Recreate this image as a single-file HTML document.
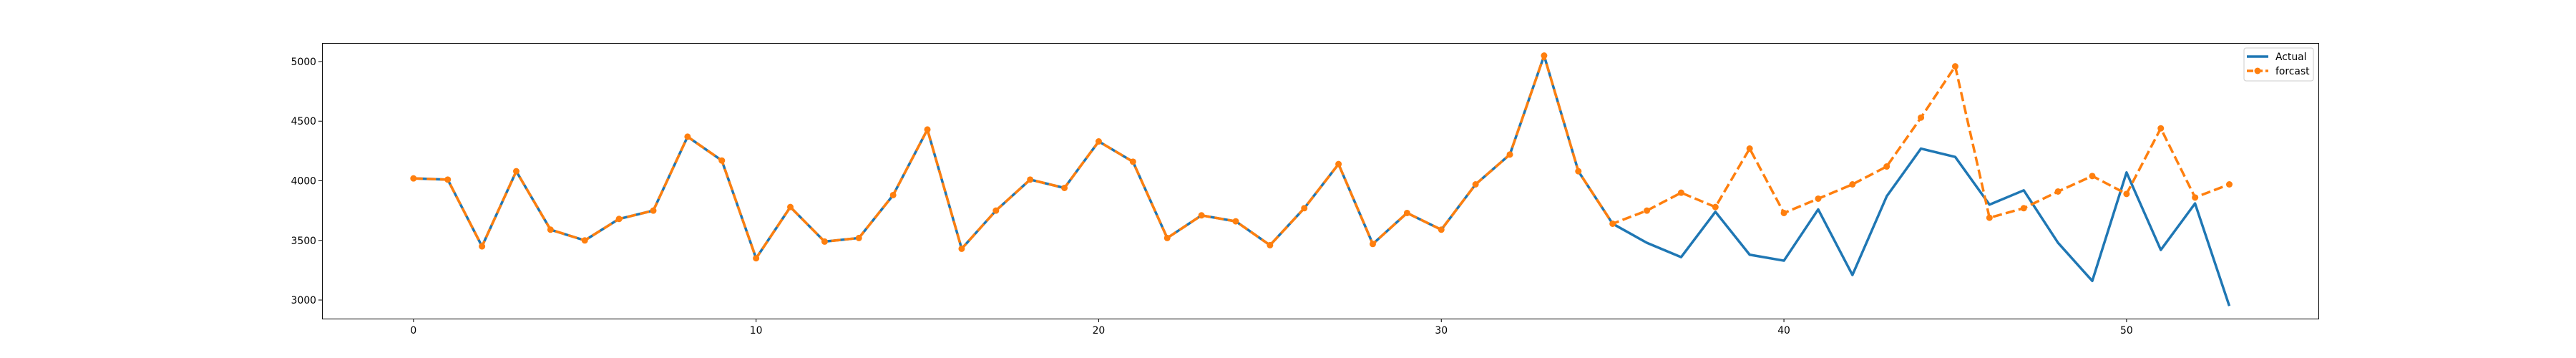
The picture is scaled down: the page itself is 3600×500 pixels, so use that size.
<!DOCTYPE html>
<html><head><meta charset="utf-8"><style>
html,body{margin:0;padding:0;background:#fff;}
svg{display:block;font-family:"DejaVu Sans","Liberation Sans",sans-serif;}
</style></head><body>
<svg id="chart" width="3600" height="500" xmlns="http://www.w3.org/2000/svg">
<rect width="3600" height="500" fill="#fff"/>
<g id="plot"></g>
<rect x="450.5" y="60.5" width="2790" height="385" fill="none" stroke="#000" stroke-width="1"/>
<g>
<rect x="3136" y="67" width="97" height="46" rx="3" fill="#fff" fill-opacity="0.8" stroke="#ccc"/>
<line x1="3140" y1="79" x2="3170" y2="79" stroke="#1f77b4" stroke-width="3.5"/>
<text x="3180" y="84" font-size="13.9">Actual</text>
<line x1="3140" y1="99" x2="3170" y2="99" stroke="#ff7f0e" stroke-width="3.5" stroke-dasharray="9,4"/>
<circle cx="3155" cy="99" r="4.5" fill="#ff7f0e"/>
<text x="3180" y="104" font-size="13.9">forcast</text>
</g>
</svg>
<script>
const xTicks=[0,10,20,30,40,50];
const yTicks=[3000,3500,4000,4500,5000];
const actual=[4020,4010,3450,4080,3590,3500,3680,3750,4370,4170,3350,3780,3490,3520,3880,4430,3430,3750,4010,3940,4330,4160,3520,3710,3660,3460,3770,4140,3470,3730,3590,3970,4220,5050,4080,3640,3480,3360,3740,3380,3330,3760,3210,3870,4270,4200,3800,3920,3480,3160,4070,3420,3810,2950];
const forcast=[4020,4010,3450,4080,3590,3500,3680,3750,4370,4170,3350,3780,3490,3520,3880,4430,3430,3750,4010,3940,4330,4160,3520,3710,3660,3460,3770,4140,3470,3730,3590,3970,4220,5050,4080,3640,3750,3900,3780,4270,3730,3850,3970,4120,4530,4960,3690,3770,3910,4040,3890,4440,3860,3970];
const NS="http://www.w3.org/2000/svg";
const L=450,R=3240,T=60,B=445;
const xmin=-2.67,xmax=55.6,ymin=2844,ymax=5156;
function sx(v){return L+(v-xmin)/(xmax-xmin)*(R-L);}
function sy(v){return B-(v-ymin)/(ymax-ymin)*(B-T);}
const g=document.getElementById('plot');
function mk(t,a){const e=document.createElementNS(NS,t);for(const k in a)e.setAttribute(k,a[k]);g.appendChild(e);return e;}
xTicks.forEach(v=>{
  const l=mk('line',{x1:sx(v),x2:sx(v),y1:B,y2:B+5,stroke:'#000'});
  
  
  const t=mk('text',{x:sx(v),y:B+21,'font-size':13.9,'text-anchor':'middle'});
  t.textContent=v;
  
  
});
yTicks.forEach(v=>{
  const l=mk('line',{x1:L-5,x2:L,y1:sy(v),y2:sy(v),stroke:'#000'});
  
  
  const t=mk('text',{x:L-8,y:sy(v)+5,'font-size':13.9,'text-anchor':'end'});
  t.textContent=v;
  
  
});
const pa=actual.map((v,i)=>sx(i)+','+sy(v)).join(' ');
const la=mk('polyline',{points:pa,fill:'none',stroke:'#1f77b4','stroke-width':3.5,'stroke-linejoin':'round'});


const pf=forcast.map((v,i)=>sx(i)+','+sy(v)).join(' ');
const lf=mk('polyline',{points:pf,fill:'none',stroke:'#ff7f0e','stroke-width':3.5,'stroke-dasharray':'13,5.5','stroke-linejoin':'round'});


forcast.forEach((v,i)=>{
  const c=mk('circle',{cx:sx(i),cy:sy(v),r:4.5,fill:'#ff7f0e'});
  
  
});
</script>
</body></html>
